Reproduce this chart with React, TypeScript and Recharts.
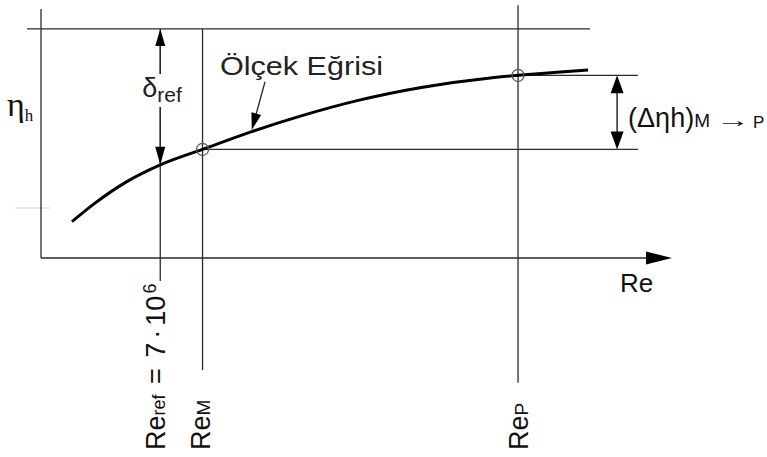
import React from "react";
import { ComposedChart, Line, XAxis, YAxis, ReferenceLine, ReferenceDot } from "recharts";

// scale curve, arbitrary units (Re across, eta_h up, both 0..100)
const curveRe = [4.9, 8.3, 13.6, 18.9, 25.6, 33.4, 41.1, 50.1, 60.5, 71.2, 75.6, 81.8, 86.7];
const curveEta = [14.1, 20.8, 29.6, 36.1, 42.1, 49.0, 55.0, 61.0, 66.2, 69.8, 70.8, 72.0, 72.9];

// the three marked Reynolds numbers sit on the curve
const reRef = curveRe[3];
const etaRef = curveEta[3];
const reM = curveRe[4];
const etaM = curveEta[4];
const reP = curveRe[10];
const etaP = curveEta[10];

const etaTop = 88.8; // upper reference level
const reRight = 94.6; // where the eta_M / eta_P levels stop
const reDelta = 91.3; // (delta eta_h) arrow

const curveData = curveRe.map((re, i) => ({ re, eta: curveEta[i] }));

const SANS = '"Liberation Sans", Arial, sans-serif';
const SERIF = '"Liberation Serif", "Times New Roman", serif';
const INK = "#2a2a2a";
const LABEL_BASE = 450;

function head(tx: number, ty: number, fx: number, fy: number, len: number, half: number) {
  const dx = tx - fx;
  const dy = ty - fy;
  const d = Math.hypot(dx, dy) || 1;
  const ux = dx / d;
  const uy = dy / d;
  const bx = tx - ux * len;
  const by = ty - uy * len;
  return `${tx},${ty} ${bx - uy * half},${by + ux * half} ${bx + uy * half},${by - ux * half}`;
}

const Thin = (p: any) => (
  <line x1={p.x1} y1={p.y1} x2={p.x2} y2={p.y2} stroke={INK} strokeWidth={1.3} />
);

const Faint = (p: any) => (
  <line x1={p.x1} y1={p.y1} x2={p.x2} y2={p.y2} stroke="#e2e2e2" strokeWidth={1.5} />
);

const YAxisLine = (p: any) => (
  <g>
    <line x1={p.x1} y1={p.y1} x2={p.x2} y2={p.y2} stroke={INK} strokeWidth={1.3} />
    <text x={p.x1 - 34} y={116} fontSize={34} fontFamily={SERIF} fill="#111">
      η<tspan fontSize={17} dy={5}>h</tspan>
    </text>
  </g>
);

const XAxisArrow = (p: any) => (
  <g>
    <line x1={p.x1} y1={p.y1} x2={p.x2 - 20} y2={p.y2} stroke={INK} strokeWidth={1.5} />
    <polygon points={head(p.x2, p.y2, p.x1, p.y1, 26, 6.5)} fill="#000" />
    <text x={p.x2 - 52} y={p.y2 + 34} fontSize={26} fontFamily={SANS} fill="#111">Re</text>
  </g>
);

const DeltaRef = (p: any) => (
  <g>
    <line x1={p.x1} y1={p.y1 + 10} x2={p.x2} y2={p.y2 - 10} stroke={INK} strokeWidth={1.3} />
    <polygon points={head(p.x1, p.y1, p.x2, p.y2, 17, 5)} fill="#000" />
    <polygon points={head(p.x2, p.y2, p.x1, p.y1, 18, 5)} fill="#000" />
    <rect x={p.x1 - 19} y={74} width={46} height={33} fill="#fff" />
    <text x={p.x1 - 18} y={97} fontSize={27} fontFamily={SANS} fill="#222">
      δ<tspan fontSize={21} dy={5}>ref</tspan>
    </text>
  </g>
);

const DeltaEta = (p: any) => (
  <g>
    <line x1={p.x1} y1={p.y1 + 10} x2={p.x2} y2={p.y2 - 10} stroke={INK} strokeWidth={1.5} />
    <polygon points={head(p.x1, p.y1, p.x2, p.y2, 18, 6.5)} fill="#000" />
    <polygon points={head(p.x2, p.y2, p.x1, p.y1, 18, 6.5)} fill="#000" />
    <text x={p.x1 + 11} y={127} fontSize={27} fontFamily={SANS} fill="#111">
      (Δηh)<tspan fontSize={19}>M</tspan>
    </text>
    <text
      x={0}
      y={0}
      transform={`translate(${p.x1 + 99} 127) scale(1.7 1)`}
      fontSize={20}
      fontFamily={SANS}
      fill="#111"
    >
      →
    </text>
    <text x={p.x1 + 136} y={128} fontSize={17} fontFamily={SANS} fill="#111">P</text>
  </g>
);

const Pointer = (p: any) => (
  <g>
    <line x1={p.x1} y1={p.y1} x2={p.x2 + (p.x1 - p.x2) * 0.25} y2={p.y2 + (p.y1 - p.y2) * 0.25} stroke={INK} strokeWidth={1.3} />
    <polygon points={head(p.x2, p.y2, p.x1, p.y1, 17, 5)} fill="#000" />
    <text x={p.x1 - 45} y={p.y1 - 7} fontSize={26} fontFamily={SANS} fill="#222" textLength={163} lengthAdjust="spacingAndGlyphs">
      Ölçek Eğrisi
    </text>
  </g>
);

const marker = (dx: number, content: React.ReactNode) => (p: any) => {
  const bx = p.x1 + dx;
  return (
    <g>
      <line x1={p.x1} y1={p.y1} x2={p.x2} y2={p.y2} stroke={INK} strokeWidth={1.3} />
      <text x={bx} y={LABEL_BASE} transform={`rotate(-90 ${bx} ${LABEL_BASE})`} fontSize={27} fontFamily={SANS} fill="#111">
        {content}
      </text>
    </g>
  );
};

const RefMarker = marker(5, (
  <>
    Re<tspan fontSize={18}>ref</tspan>
    <tspan dx={3}>{" ="}</tspan>
    <tspan dx={3}>{" 7"}</tspan>
    <tspan dx={4}>·</tspan>
    <tspan dx={4}>10</tspan>
    <tspan fontSize={18} dx={2} dy={-9}>6</tspan>
  </>
));
const MMarker = marker(7, (<>Re<tspan fontSize={19}>M</tspan></>));
const PMarker = marker(10, (<>Re<tspan fontSize={19}>P</tspan></>));

export default function App() {
  return (
    <div style={{ position: "absolute", left: 0, top: 0, width: 767, height: 457, background: "#fff" }}>
      <ComposedChart
        width={767}
        height={457}
        data={curveData}
        margin={{ top: 0, right: 95, bottom: 199, left: 41 }}
      >
        <XAxis dataKey="re" type="number" domain={[0, 100]} allowDataOverflow hide />
        <YAxis type="number" domain={[0, 100]} allowDataOverflow hide />

        <ReferenceLine segment={[{ x: -4.1, y: 19.4 }, { x: 1.4, y: 19.4 }]} ifOverflow="visible" shape={Faint} />
        <ReferenceLine segment={[{ x: 0, y: 96.5 }, { x: 0, y: 0 }]} ifOverflow="visible" shape={YAxisLine} />
        <ReferenceLine segment={[{ x: 0, y: 0 }, { x: 100, y: 0 }]} ifOverflow="visible" shape={XAxisArrow} />
        <ReferenceLine segment={[{ x: -2.2, y: etaTop }, { x: 87.0, y: etaTop }]} ifOverflow="visible" shape={Thin} />

        <ReferenceLine segment={[{ x: reRef, y: etaTop }, { x: reRef, y: -8.9 }]} ifOverflow="visible" shape={RefMarker} />
        <ReferenceLine segment={[{ x: reM, y: etaTop }, { x: reM, y: -43.4 }]} ifOverflow="visible" shape={MMarker} />
        <ReferenceLine segment={[{ x: reP, y: 98 }, { x: reP, y: -48.4 }]} ifOverflow="visible" shape={PMarker} />

        <ReferenceLine segment={[{ x: reM, y: etaM }, { x: reRight, y: etaM }]} ifOverflow="visible" shape={Thin} />
        <ReferenceLine segment={[{ x: reP, y: etaP }, { x: reRight, y: etaP }]} ifOverflow="visible" shape={Thin} />

        <ReferenceLine segment={[{ x: reRef, y: etaTop }, { x: reRef, y: etaRef }]} ifOverflow="visible" shape={DeltaRef} />
        <ReferenceLine segment={[{ x: reDelta, y: etaP }, { x: reDelta, y: etaM }]} ifOverflow="visible" shape={DeltaEta} />
        <ReferenceLine segment={[{ x: 35.5, y: 68.3 }, { x: 33.4, y: 49.6 }]} ifOverflow="visible" shape={Pointer} />

        <Line
          dataKey="eta"
          type="monotone"
          stroke="#000"
          strokeWidth={3}
          dot={false}
          activeDot={false}
          isAnimationActive={false}
        />

        <ReferenceDot x={reM} y={etaM} r={6} fill="none" stroke="#555" strokeWidth={1.2} ifOverflow="visible" />
        <ReferenceDot x={reP} y={etaP} r={6} fill="none" stroke="#555" strokeWidth={1.2} ifOverflow="visible" />
      </ComposedChart>
    </div>
  );
}
